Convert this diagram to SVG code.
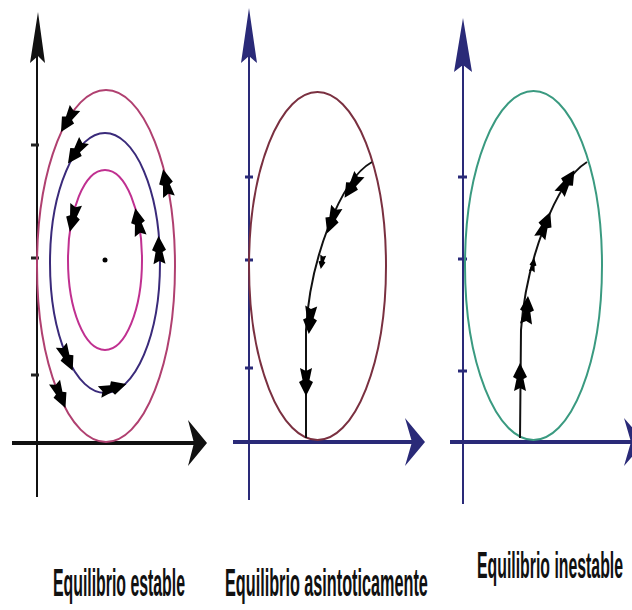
<svg xmlns="http://www.w3.org/2000/svg" xmlns:xlink="http://www.w3.org/1999/xlink" width="632" height="610" viewBox="0 0 632 610">
<style>
.ax1{stroke:#111;fill:none}
.ax2{stroke:#2a2a78;fill:none}
.tk1{stroke:#222;stroke-width:3}
.tk2{stroke:#2a2a78;stroke-width:3}
.traj{stroke:#111;stroke-width:2;fill:none}
.lbl{font-family:"Liberation Sans",Arial,sans-serif;font-weight:bold;fill:#111}
</style>
<defs>
<path id="ah" d="M14,0 L0,-7 L-2,-3.5 L-14,-6 L-11,0 L-14,6 L-2,3.5 L0,7 Z" fill="#000"/>
</defs>
<rect width="632" height="610" fill="#fff"/>

<g id="panel1">
  <line class="ax1" x1="37" y1="40" x2="37" y2="497" stroke-width="2"/>
  <path d="M38,12 L45,63 L38,56 L30,63 Z" fill="#111"/>
  <line class="ax1" x1="12" y1="443" x2="196" y2="443" stroke-width="4"/>
  <path d="M207,443 L188,420 L194,443 L188,466 Z" fill="#111"/>
  <line class="tk1" x1="31" y1="145" x2="39" y2="145"/>
  <line class="tk1" x1="31" y1="258" x2="39" y2="258"/>
  <line class="tk1" x1="31" y1="375" x2="39" y2="375"/>
  <ellipse cx="106" cy="266" rx="69" ry="176" fill="none" stroke="#b04070" stroke-width="2"/>
  <ellipse cx="105" cy="263" rx="55" ry="130" fill="none" stroke="#3a2a7a" stroke-width="2"/>
  <ellipse cx="105" cy="260" rx="37" ry="90" fill="none" stroke="#c03090" stroke-width="2"/>
  <circle cx="105" cy="260" r="2.5" fill="#000"/>
  <use xlink:href="#ah" transform="translate(68,120) rotate(120)"/>
  <use xlink:href="#ah" transform="translate(166,183) rotate(-102)"/>
  <use xlink:href="#ah" transform="translate(60,395) rotate(67)"/>
  <use xlink:href="#ah" transform="translate(76,152) rotate(125)"/>
  <use xlink:href="#ah" transform="translate(159,250) rotate(-92)"/>
  <use xlink:href="#ah" transform="translate(67,358) rotate(66)"/>
  <use xlink:href="#ah" transform="translate(113,388) rotate(-17)"/>
  <use xlink:href="#ah" transform="translate(73,218) rotate(103)"/>
  <use xlink:href="#ah" transform="translate(138,222) rotate(-101)"/>
</g>

<g id="panel2">
  <line class="ax2" x1="249" y1="40" x2="249" y2="500" stroke-width="2"/>
  <path d="M249,8 L257,63 L249,56 L241,63 Z" fill="#2a2a78"/>
  <line class="ax2" x1="233" y1="442" x2="414" y2="442" stroke-width="4"/>
  <path d="M425,442 L405,418 L412,442 L405,466 Z" fill="#2a2a78"/>
  <line class="tk2" x1="245" y1="177" x2="253" y2="177"/>
  <line class="tk2" x1="245" y1="260" x2="253" y2="260"/>
  <line class="tk2" x1="245" y1="368" x2="253" y2="368"/>
  <ellipse cx="317.5" cy="266" rx="68.5" ry="174" fill="none" stroke="#7a3040" stroke-width="2"/>
  <path class="traj" d="M372,162 C340,180 310,260 306,330 L306,438"/>
  <use xlink:href="#ah" transform="translate(352,186) rotate(122)"/>
  <use xlink:href="#ah" transform="translate(332,220) rotate(110)"/>
  <use xlink:href="#ah" transform="translate(322,262) rotate(100) scale(0.5)"/>
  <use xlink:href="#ah" transform="translate(310,320) rotate(95)"/>
  <use xlink:href="#ah" transform="translate(306,382) rotate(90)"/>
</g>

<g id="panel3">
  <line class="ax2" x1="463" y1="50" x2="463" y2="504" stroke-width="2"/>
  <path d="M463,18 L472,72 L463,65 L454,72 Z" fill="#2a2a78"/>
  <line class="ax2" x1="450" y1="442" x2="632" y2="442" stroke-width="4"/>
  <path d="M645,442 L624,418 L631,442 L624,466 Z" fill="#2a2a78"/>
  <line class="tk2" x1="458" y1="177" x2="467" y2="177"/>
  <line class="tk2" x1="458" y1="259" x2="467" y2="259"/>
  <line class="tk2" x1="458" y1="371" x2="467" y2="371"/>
  <ellipse cx="533.5" cy="265.5" rx="68.5" ry="174.5" fill="none" stroke="#3a9a80" stroke-width="2"/>
  <path class="traj" d="M587,162 C555,182 526,262 521,330 L520,438"/>
  <use xlink:href="#ah" transform="translate(567,182) rotate(-58)"/>
  <use xlink:href="#ah" transform="translate(545,225) rotate(-68)"/>
  <use xlink:href="#ah" transform="translate(533,265) rotate(-80) scale(0.5)"/>
  <use xlink:href="#ah" transform="translate(527,310) rotate(-86)"/>
  <use xlink:href="#ah" transform="translate(520,377) rotate(-90)"/>
</g>

<g id="labels">
  <text class="lbl" transform="translate(53,596) scale(0.43,1)" x="0" y="0" font-size="39" textLength="307" lengthAdjust="spacingAndGlyphs">Equilibrio estable</text>
  <text class="lbl" transform="translate(225,596) scale(0.44,1)" x="0" y="0" font-size="39" textLength="461" lengthAdjust="spacingAndGlyphs">Equilibrio asintoticamente</text>
  <text class="lbl" transform="translate(477,578) scale(0.44,1)" x="0" y="0" font-size="36">Equilibrio inestable</text>
</g>
</svg>
